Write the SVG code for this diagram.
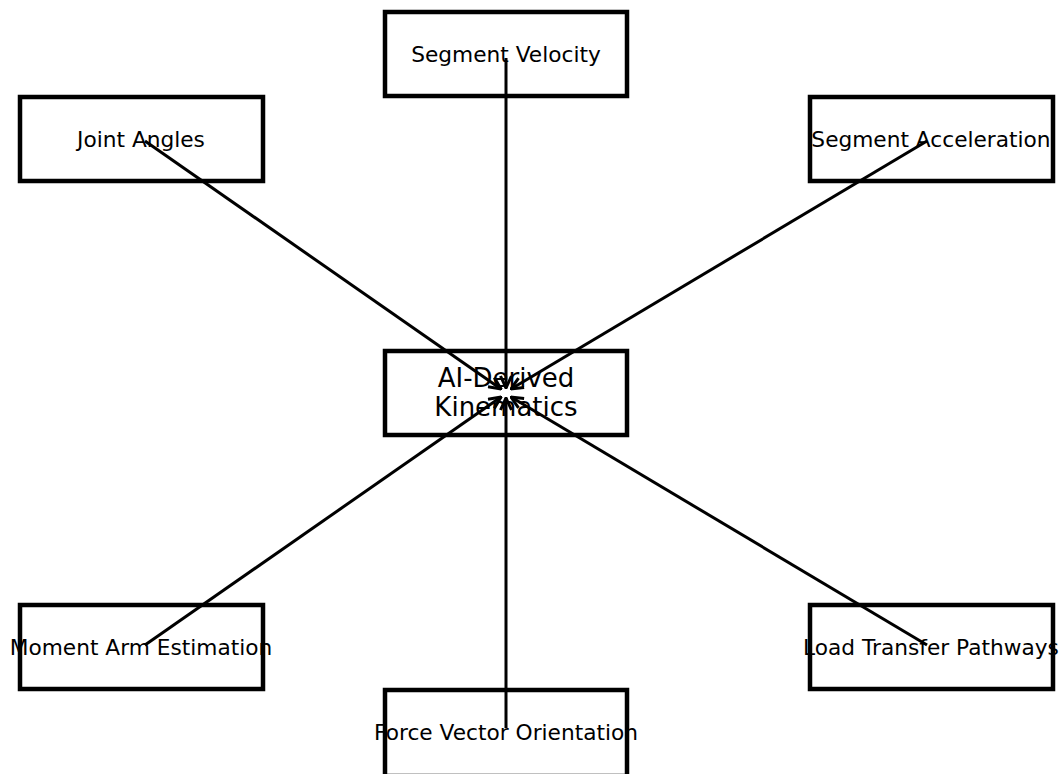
<svg xmlns="http://www.w3.org/2000/svg" width="1062" height="774" viewBox="0 0 1062 774">
<style>
.box{fill:#fff;stroke:#000;stroke-width:4.5}
.lbl{font-family:"DejaVu Sans",sans-serif;font-size:21.7px;fill:#000;text-anchor:middle;dominant-baseline:central}
.big{font-size:26px}
.edge{stroke:#000;stroke-width:3;fill:none;marker-end:url(#arr)}
</style>
<defs>
<marker id="arr" viewBox="0 0 14 14" refX="13" refY="7" markerWidth="14" markerHeight="14" markerUnits="userSpaceOnUse" orient="auto">
<path d="M1,1.5 L13,7 L1,12.5" fill="none" stroke="#000" stroke-width="3"/>
</marker>
</defs>
<rect width="1062" height="774" fill="#fff"/>
<g id="n-velocity"><rect class="box" x="385" y="12" width="242" height="84"/><text class="lbl" x="506" y="54">Segment Velocity</text></g>
<g id="n-joint"><rect class="box" x="20" y="97" width="243" height="84"/><text class="lbl" x="141" y="139">Joint Angles</text></g>
<g id="n-accel"><rect class="box" x="810" y="97" width="243" height="84"/><text class="lbl" x="931" y="139">Segment Acceleration</text></g>
<g id="n-center"><rect class="box" x="385" y="351" width="242" height="84"/><text class="lbl big" x="506" y="378">AI-Derived</text><text class="lbl big" x="506" y="407">Kinematics</text></g>
<g id="n-moment"><rect class="box" x="20" y="605" width="243" height="84"/><text class="lbl" x="141" y="647">Moment Arm Estimation</text></g>
<g id="n-load"><rect class="box" x="810" y="605" width="243" height="84"/><text class="lbl" x="931" y="647">Load Transfer Pathways</text></g>
<g id="n-force"><rect class="box" x="385" y="690" width="242" height="86"/><text class="lbl" x="506" y="732">Force Vector Orientation</text></g>
<g id="connectors">
<line class="edge" x1="145" y1="141" x2="501" y2="389"/>
<line class="edge" x1="506" y1="58" x2="506" y2="388"/>
<line class="edge" x1="927" y1="141" x2="511" y2="389"/>
<line class="edge" x1="145" y1="645" x2="501" y2="397"/>
<line class="edge" x1="506" y1="728" x2="506" y2="398"/>
<line class="edge" x1="927" y1="645" x2="511" y2="397"/>
</g>
</svg>
